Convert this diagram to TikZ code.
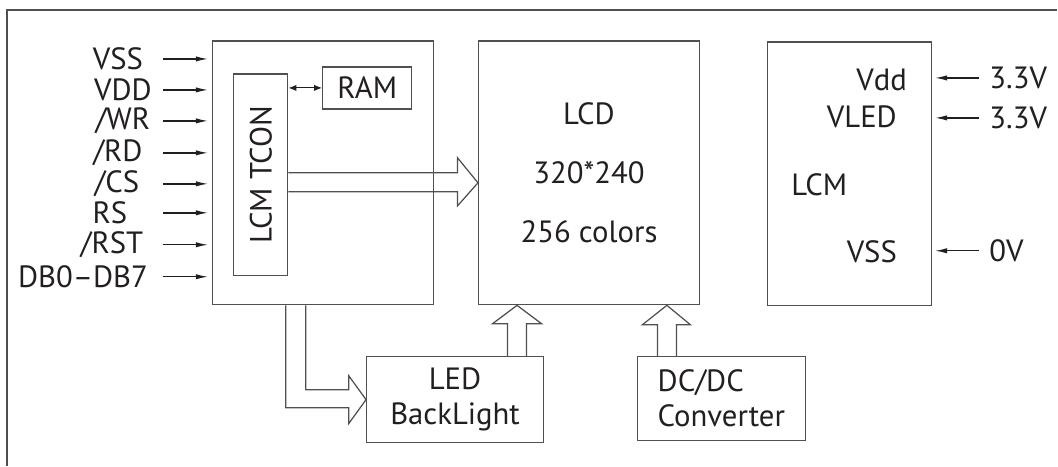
\documentclass[tikz,border=0pt]{standalone}
\usepackage{fontspec}
\setmainfont{PT Sans}
\usepackage{graphicx}
\usetikzlibrary{arrows.meta}
\definecolor{linegray}{HTML}{505050}
\definecolor{inkgray}{HTML}{231F20}
\tikzset{
  block/.style={draw=linegray, line width=0.7pt, inner sep=0pt, text=inkgray, align=center},
  pin/.style={-{Latex[length=7pt,width=3pt]}, line width=0.8pt, draw=inkgray, shorten >=0.08cm},
  bus/.style={draw=linegray, line width=0.7pt},
  lbl/.style={text=inkgray, inner sep=0pt},
}

\begin{document}
\begin{tikzpicture}[font=\fontsize{17.5}{20}\selectfont]
\path[fill=white] (0,0) rectangle (21.16,-9.32);
\draw[linegray, line width=1.1pt] (0.14,-9.32) |- (21.16,-0.20);

\node[block, minimum width=4.42cm, minimum height=5.28cm] (ctrl) at (6.47,-3.46) {};
\node[block, minimum width=1.08cm, minimum height=4.04cm] (tcon) at (5.22,-3.50) {\rotatebox{90}{LCM TCON}};
\node[block, minimum width=1.78cm, minimum height=0.84cm] (ram) at (7.35,-1.76) {RAM};
\node[block, minimum width=4.42cm, minimum height=5.28cm] (lcd) at (11.79,-3.46) {LCD\\[13.5pt]320*240\\[13.5pt]256 colors};
\node[block, minimum width=3.28cm, minimum height=5.28cm] (lcm) at (17.00,-3.48) {};
\node[block, minimum width=3.54cm, minimum height=1.72cm] (led) at (9.11,-8.00) {LED\\BackLight};
\node[block, minimum width=3.36cm, minimum height=1.68cm, align=left] (dcdc) at (14.44,-7.98) {DC/DC\\Converter};

\node[lbl, anchor=east] (vdd) at (18.16,-1.60) {Vdd};
\node[lbl, anchor=east] (vled) at (17.96,-2.34) {VLED};
\node[lbl] (lcmname) at (16.40,-3.70) {LCM};
\node[lbl, anchor=east] (vss) at (17.96,-5.04) {VSS};

\foreach \name/\lx/\y [count=\i] in {VSS/2.36/-1.18, VDD/2.46/-1.80, {/WR}/2.46/-2.42, {/RD}/2.36/-3.06,
    {/CS}/2.34/-3.68, RS/2.20/-4.26, {/RST}/2.24/-4.90, DB0--DB7/1.66/-5.54} {
  \node[lbl] (sig\i) at (\lx,\y) {\name};
  \coordinate (in\i) at (3.26,\y);
  \draw[pin] (in\i) -- (in\i -| ctrl.west);
}

\foreach \v/\y [count=\i] in {3.3V/-1.56, 3.3V/-2.36, 0V/-5.02} {
  \coordinate (pw\i) at (19.60,\y);
  \node[lbl, anchor=west] (pwl\i) at (19.80,\y) {\v};
  \draw[pin, shorten >=0.06cm] (pw\i) -- (pw\i -| lcm.east);
}

\draw[{Latex[length=4.5pt,width=3.5pt]}-{Latex[length=4.5pt,width=3.5pt]}, line width=0.6pt, inkgray] (tcon.east |- ram.west) -- (ram.west);

\draw[bus] (tcon.east |- 0,-3.46) -- (9.16,-3.46) -- (9.16,-3.16) -- (lcd.west |- 0,-3.66) -- (9.16,-4.12) -- (9.16,-3.84) -- (tcon.east |- 0,-3.84);
\draw[bus] (ctrl.south -| 5.72,0) |- (6.98,-8.16) -- (6.98,-8.48) -- (led.west) -- (6.98,-7.52) -- (6.98,-7.80) -| (ctrl.south -| 6.12,0);
\draw[bus] (led.north -| 10.16,0) -- (10.16,-6.48) -- (9.86,-6.48) -- (lcd.south -| 10.35,0) -- (10.84,-6.48) -- (10.54,-6.48) -- (led.north -| 10.54,0);
\draw[bus] (dcdc.north -| 13.16,0) -- (13.16,-6.50) -- (12.86,-6.50) -- (lcd.south -| 13.35,0) -- (13.82,-6.50) -- (13.54,-6.50) -- (dcdc.north -| 13.54,0);
\end{tikzpicture}
\end{document}
